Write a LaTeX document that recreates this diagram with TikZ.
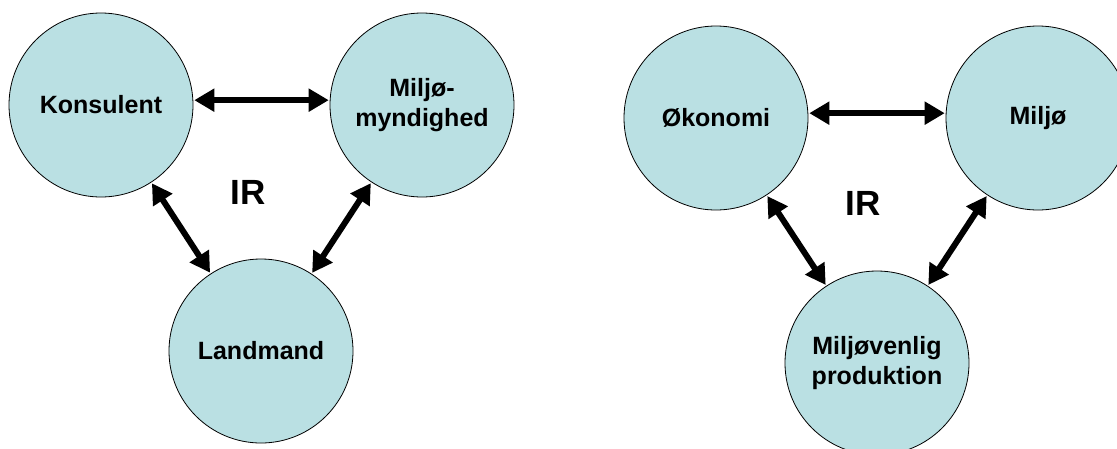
\documentclass[tikz,border=0pt]{standalone}
\usepackage{fontspec}
\setmainfont{Liberation Sans}
\usetikzlibrary{arrows.meta}
\definecolor{cfill}{RGB}{186,224,227}
\begin{document}
\begin{tikzpicture}[x=1pt,y=-1pt,
  circ/.style={circle,draw=black,line width=0.8pt,fill=cfill,minimum size=184pt,inner sep=0pt,
    font=\fontsize{25}{30}\selectfont\bfseries,align=center},
  biarrow/.style={line width=6pt,{Triangle[width=22pt,length=20pt]}-{Triangle[width=22pt,length=20pt]},shorten <=1pt,shorten >=1pt},
  irlabel/.style={font=\fontsize{35}{38}\selectfont\bfseries}]
\useasboundingbox (0,0) rectangle (1117,448);
\begin{scope}
\clip (0,0) rectangle (1117,448);
% left diagram
\node[circ] (K) at (101,105) {Konsulent};
\node[circ] (M) at (422,105) {Milj\o-\\myndighed};
\node[circ] (L) at (261,351) {Landmand};
\node[irlabel] (IR1) at (248,192) {IR};
\draw[biarrow] (K.3) -- (M.177);
\draw[biarrow] (K) -- (L);
\draw[biarrow] (M) -- (L);
% right diagram
\node[circ] (O) at (716,118) {\O konomi};
\node[circ] (Mi) at (1038,118) {Milj\o};
\node[circ] (P) at (877,363) {Milj\o venlig\\produktion};
\node[irlabel] (IR2) at (863,203) {IR};
\draw[biarrow] (O.3) -- (Mi.177);
\draw[biarrow] (O) -- (P);
\draw[biarrow] (Mi) -- (P);
\end{scope}
\end{tikzpicture}
\end{document}
